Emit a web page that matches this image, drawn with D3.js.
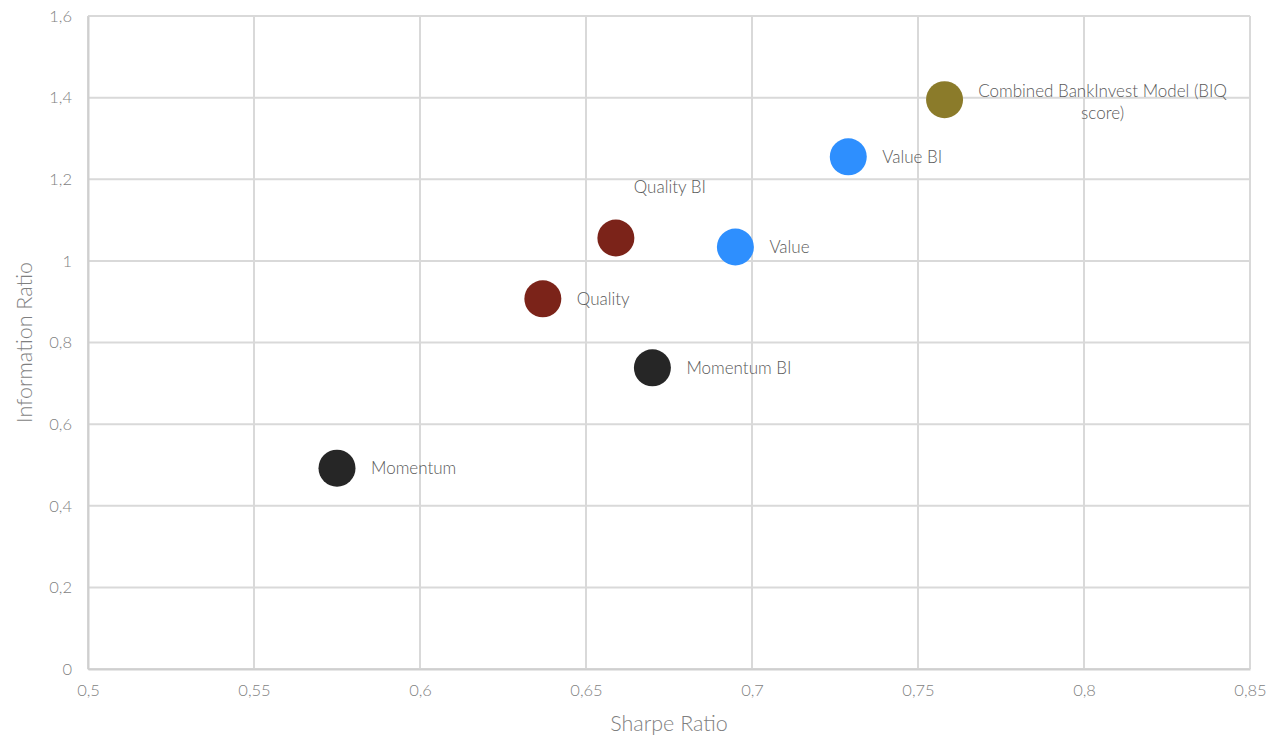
<!DOCTYPE html>
<html>
<head>
<meta charset="utf-8">
<script src="https://cdn.jsdelivr.net/npm/d3@7"></script>
<style>
  body { margin: 0; background: #fff; }
  svg { display: block; font-family: Lato, "Open Sans", sans-serif; font-weight: 300; }
</style>
</head>
<body>
<svg id="chart" width="1271" height="738"></svg>
<script>
// Strategy risk-adjusted performance
const names = ["Momentum", "Quality", "Quality BI", "Momentum BI", "Value", "Value BI", "Combined BankInvest Model (BIQ score)"];
const sharpe = [0.575, 0.637, 0.659, 0.670, 0.695, 0.729, 0.758];
const info = [0.492, 0.907, 1.056, 0.738, 1.034, 1.255, 1.395];
const colors = ["#262626", "#7b2319", "#7b2319", "#262626", "#2e8ffe", "#2e8ffe", "#8b7b2a"];
const xTicks = [0.5, 0.55, 0.6, 0.65, 0.7, 0.75, 0.8, 0.85];
const yTicks = [0, 0.2, 0.4, 0.6, 0.8, 1, 1.2, 1.4, 1.6];

const svg = d3.select("#chart");
const margin = { left: 88, right: 21, top: 16, bottom: 69 };
const W = 1271, H = 738;

const x = d3.scaleLinear().domain([0.5, 0.85]).range([margin.left, W - margin.right]);
const y = d3.scaleLinear().domain([0, 1.6]).range([H - margin.bottom, margin.top]);
const fmt = v => String(v).replace(".", ",");

// grid
const grid = svg.append("g").attr("stroke", "#d9d9d9").attr("stroke-width", 2);
grid.selectAll(".gx").data(xTicks).join("line")
  .attr("x1", d => x(d)).attr("x2", d => x(d))
  .attr("y1", y(0)).attr("y2", y(1.6));
grid.selectAll(".gy").data(yTicks).join("line")
  .attr("x1", x(0.5)).attr("x2", x(0.85))
  .attr("y1", d => y(d)).attr("y2", d => y(d));

// axes
const xAxis = svg.append("g").attr("transform", `translate(0,${y(0)})`)
  .call(d3.axisBottom(x).tickValues(xTicks).tickFormat(fmt).tickSize(0).tickPadding(15));
const yAxis = svg.append("g").attr("transform", `translate(${x(0.5)},0)`)
  .call(d3.axisLeft(y).tickValues(yTicks).tickFormat(fmt).tickSize(0).tickPadding(16));
[xAxis, yAxis].forEach(a => {
  a.select(".domain").attr("stroke", "#cfcfcf").attr("stroke-width", 2);
  a.selectAll("text").attr("fill", "#7f7f7f").style("font-size", "16.5px")
    .style("font-family", "Lato, sans-serif").style("font-weight", 300);
});

// axis titles
svg.append("text").attr("x", (x(0.5) + x(0.85)) / 2).attr("y", 731)
  .attr("text-anchor", "middle").attr("fill", "#7f7f7f").style("font-size", "21.5px")
  .text("Sharpe Ratio");
svg.append("text").attr("transform", `translate(32,${(y(0) + y(1.6)) / 2}) rotate(-90)`)
  .attr("text-anchor", "middle").attr("fill", "#7f7f7f").style("font-size", "21.5px")
  .text("Information Ratio");

const pts = names.map((n, i) => ({ name: n, sx: sharpe[i], iy: info[i], color: colors[i] }));

// points
svg.append("g").selectAll("circle").data(pts).join("circle")
  .attr("cx", d => x(d.sx)).attr("cy", d => y(d.iy)).attr("r", 18.5)
  .attr("fill", d => d.color);

// labels
const labelPos = {
  "Quality BI": { dx: 54, dy: -49, anchor: "middle" },
  "Combined BankInvest Model (BIQ score)": { dx: 158, dy: -7, anchor: "middle", lines: ["Combined BankInvest Model  (BIQ", "score)"] }
};
const lbl = svg.append("g").attr("fill", "#595959").style("font-size", "17px");
pts.forEach(d => {
  const p = labelPos[d.name] || { dx: 34, dy: 2, anchor: "start" };
  const t = lbl.append("text")
    .attr("x", x(d.sx) + p.dx).attr("y", y(d.iy) + p.dy)
    .attr("text-anchor", p.anchor).attr("dominant-baseline", "middle");
  const lines = p.lines || [d.name];
  lines.forEach((l, k) => {
    t.append("tspan").attr("x", x(d.sx) + p.dx).attr("dy", k === 0 ? 0 : 22).text(l);
  });
});
</script>
</body>
</html>
